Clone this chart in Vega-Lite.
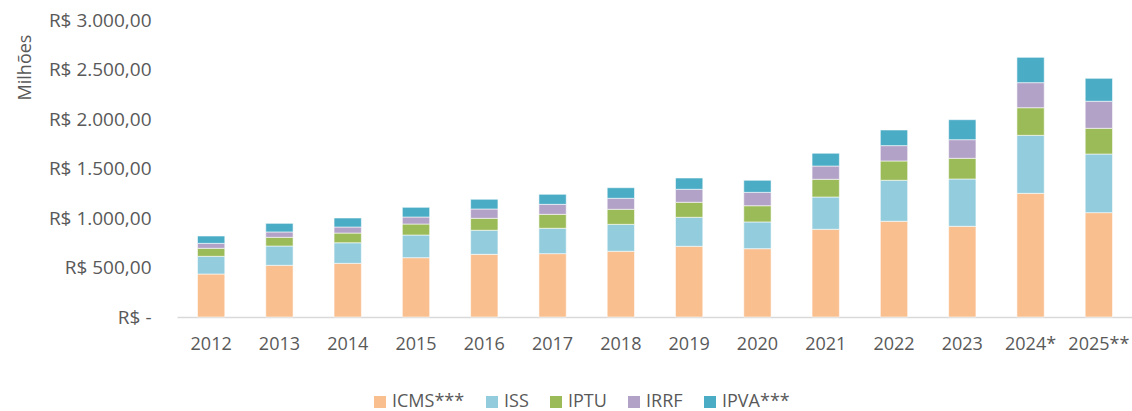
{
  "$schema": "https://vega.github.io/schema/vega-lite/v6.json",
  "width": 956,
  "height": 297,
  "autosize": {"type": "none"},
  "padding": {"left": 177, "top": 20, "right": 0, "bottom": 94},
  "background": "white",
  "config": {
    "view": {"stroke": null},
    "font": "Open Sans",
    "locale": {"number": {"decimal": ",", "thousands": ".", "grouping": [3], "currency": ["R$ ", ""]}},
    "axis": {"labelFont": "Open Sans", "titleFont": "Open Sans", "labelColor": "#595959", "titleColor": "#595959"},
    "legend": {"labelFont": "Open Sans"}
  },
  "data": {
    "values": [
      {"ano": "2012", "tributo": "ICMS***", "valor": 434},
      {"ano": "2012", "tributo": "ISS", "valor": 179},
      {"ano": "2012", "tributo": "IPTU", "valor": 81},
      {"ano": "2012", "tributo": "IRRF", "valor": 50},
      {"ano": "2012", "tributo": "IPVA***", "valor": 74},
      {"ano": "2013", "tributo": "ICMS***", "valor": 522},
      {"ano": "2013", "tributo": "ISS", "valor": 195},
      {"ano": "2013", "tributo": "IPTU", "valor": 88},
      {"ano": "2013", "tributo": "IRRF", "valor": 54},
      {"ano": "2013", "tributo": "IPVA***", "valor": 87},
      {"ano": "2014", "tributo": "ICMS***", "valor": 542},
      {"ano": "2014", "tributo": "ISS", "valor": 208},
      {"ano": "2014", "tributo": "IPTU", "valor": 98},
      {"ano": "2014", "tributo": "IRRF", "valor": 61},
      {"ano": "2014", "tributo": "IPVA***", "valor": 91},
      {"ano": "2015", "tributo": "ICMS***", "valor": 599},
      {"ano": "2015", "tributo": "ISS", "valor": 229},
      {"ano": "2015", "tributo": "IPTU", "valor": 111},
      {"ano": "2015", "tributo": "IRRF", "valor": 71},
      {"ano": "2015", "tributo": "IPVA***", "valor": 98},
      {"ano": "2016", "tributo": "ICMS***", "valor": 633},
      {"ano": "2016", "tributo": "ISS", "valor": 243},
      {"ano": "2016", "tributo": "IPTU", "valor": 121},
      {"ano": "2016", "tributo": "IRRF", "valor": 94},
      {"ano": "2016", "tributo": "IPVA***", "valor": 98},
      {"ano": "2017", "tributo": "ICMS***", "valor": 640},
      {"ano": "2017", "tributo": "ISS", "valor": 256},
      {"ano": "2017", "tributo": "IPTU", "valor": 141},
      {"ano": "2017", "tributo": "IRRF", "valor": 101},
      {"ano": "2017", "tributo": "IPVA***", "valor": 101},
      {"ano": "2018", "tributo": "ICMS***", "valor": 664},
      {"ano": "2018", "tributo": "ISS", "valor": 272},
      {"ano": "2018", "tributo": "IPTU", "valor": 152},
      {"ano": "2018", "tributo": "IRRF", "valor": 111},
      {"ano": "2018", "tributo": "IPVA***", "valor": 107},
      {"ano": "2019", "tributo": "ICMS***", "valor": 714},
      {"ano": "2019", "tributo": "ISS", "valor": 293},
      {"ano": "2019", "tributo": "IPTU", "valor": 152},
      {"ano": "2019", "tributo": "IRRF", "valor": 131},
      {"ano": "2019", "tributo": "IPVA***", "valor": 114},
      {"ano": "2020", "tributo": "ICMS***", "valor": 690},
      {"ano": "2020", "tributo": "ISS", "valor": 270},
      {"ano": "2020", "tributo": "IPTU", "valor": 164},
      {"ano": "2020", "tributo": "IRRF", "valor": 135},
      {"ano": "2020", "tributo": "IPVA***", "valor": 122},
      {"ano": "2021", "tributo": "ICMS***", "valor": 886},
      {"ano": "2021", "tributo": "ISS", "valor": 326},
      {"ano": "2021", "tributo": "IPTU", "valor": 179},
      {"ano": "2021", "tributo": "IRRF", "valor": 134},
      {"ano": "2021", "tributo": "IPVA***", "valor": 129},
      {"ano": "2022", "tributo": "ICMS***", "valor": 967},
      {"ano": "2022", "tributo": "ISS", "valor": 414},
      {"ano": "2022", "tributo": "IPTU", "valor": 195},
      {"ano": "2022", "tributo": "IRRF", "valor": 155},
      {"ano": "2022", "tributo": "IPVA***", "valor": 158},
      {"ano": "2023", "tributo": "ICMS***", "valor": 916},
      {"ano": "2023", "tributo": "ISS", "valor": 478},
      {"ano": "2023", "tributo": "IPTU", "valor": 209},
      {"ano": "2023", "tributo": "IRRF", "valor": 188},
      {"ano": "2023", "tributo": "IPVA***", "valor": 202},
      {"ano": "2024*", "tributo": "ICMS***", "valor": 1249},
      {"ano": "2024*", "tributo": "ISS", "valor": 586},
      {"ano": "2024*", "tributo": "IPTU", "valor": 279},
      {"ano": "2024*", "tributo": "IRRF", "valor": 253},
      {"ano": "2024*", "tributo": "IPVA***", "valor": 256},
      {"ano": "2025**", "tributo": "ICMS***", "valor": 1054},
      {"ano": "2025**", "tributo": "ISS", "valor": 592},
      {"ano": "2025**", "tributo": "IPTU", "valor": 260},
      {"ano": "2025**", "tributo": "IRRF", "valor": 273},
      {"ano": "2025**", "tributo": "IPVA***", "valor": 232}
    ]
  },
  "transform": [
    {"calculate": "indexof(['ICMS***','ISS','IPTU','IRRF','IPVA***'], datum.tributo)", "as": "ordem"}
  ],
  "mark": {"type": "bar", "width": {"band": 0.4}, "stroke": "white", "strokeWidth": 0.8, "strokeOpacity": 0.7},
  "encoding": {
    "x": {
      "field": "ano", "type": "nominal", "sort": null,
      "scale": {"paddingInner": 0, "paddingOuter": 0},
      "axis": {"title": null, "labelAngle": 0, "labelFontSize": 18, "labelPadding": 18, "ticks": false,
               "domainColor": "#d9d9d9", "domainWidth": 1.5, "grid": false}
    },
    "y": {
      "field": "valor", "type": "quantitative", "aggregate": "sum",
      "scale": {"domain": [0, 3000], "nice": false},
      "axis": {
        "title": "Milhões", "titleFontSize": 18, "titleFontWeight": "normal",
        "titleX": -152, "titleY": 47, "titleAngle": -90, "titleAlign": "center", "titleBaseline": "middle",
        "values": [0, 500, 1000, 1500, 2000, 2500, 3000],
        "labelExpr": "datum.value === 0 ? 'R$ -\u00a0\u00a0' : 'R$ ' + format(datum.value, ',.2f')",
        "labelFontSize": 19, "labelPadding": 26, "ticks": false, "domain": false, "grid": false
      }
    },
    "order": {"field": "ordem", "type": "quantitative", "sort": "ascending"},
    "color": {
      "field": "tributo", "type": "nominal",
      "sort": ["ICMS***", "ISS", "IPTU", "IRRF", "IPVA***"],
      "scale": {"domain": ["ICMS***", "ISS", "IPTU", "IRRF", "IPVA***"],
                "range": ["#F9BF8F", "#93CDDD", "#9BBB59", "#B3A2C7", "#4BACC6"]},
      "legend": {
        "title": null, "orient": "none", "direction": "horizontal", "legendX": 194, "legendY": 373,
        "padding": 0, "symbolType": "square", "symbolSize": 144, "symbolStrokeWidth": 0,
        "labelFontSize": 18, "labelColor": "#595959", "labelOffset": 3, "columnPadding": 18
      }
    }
  }
}
